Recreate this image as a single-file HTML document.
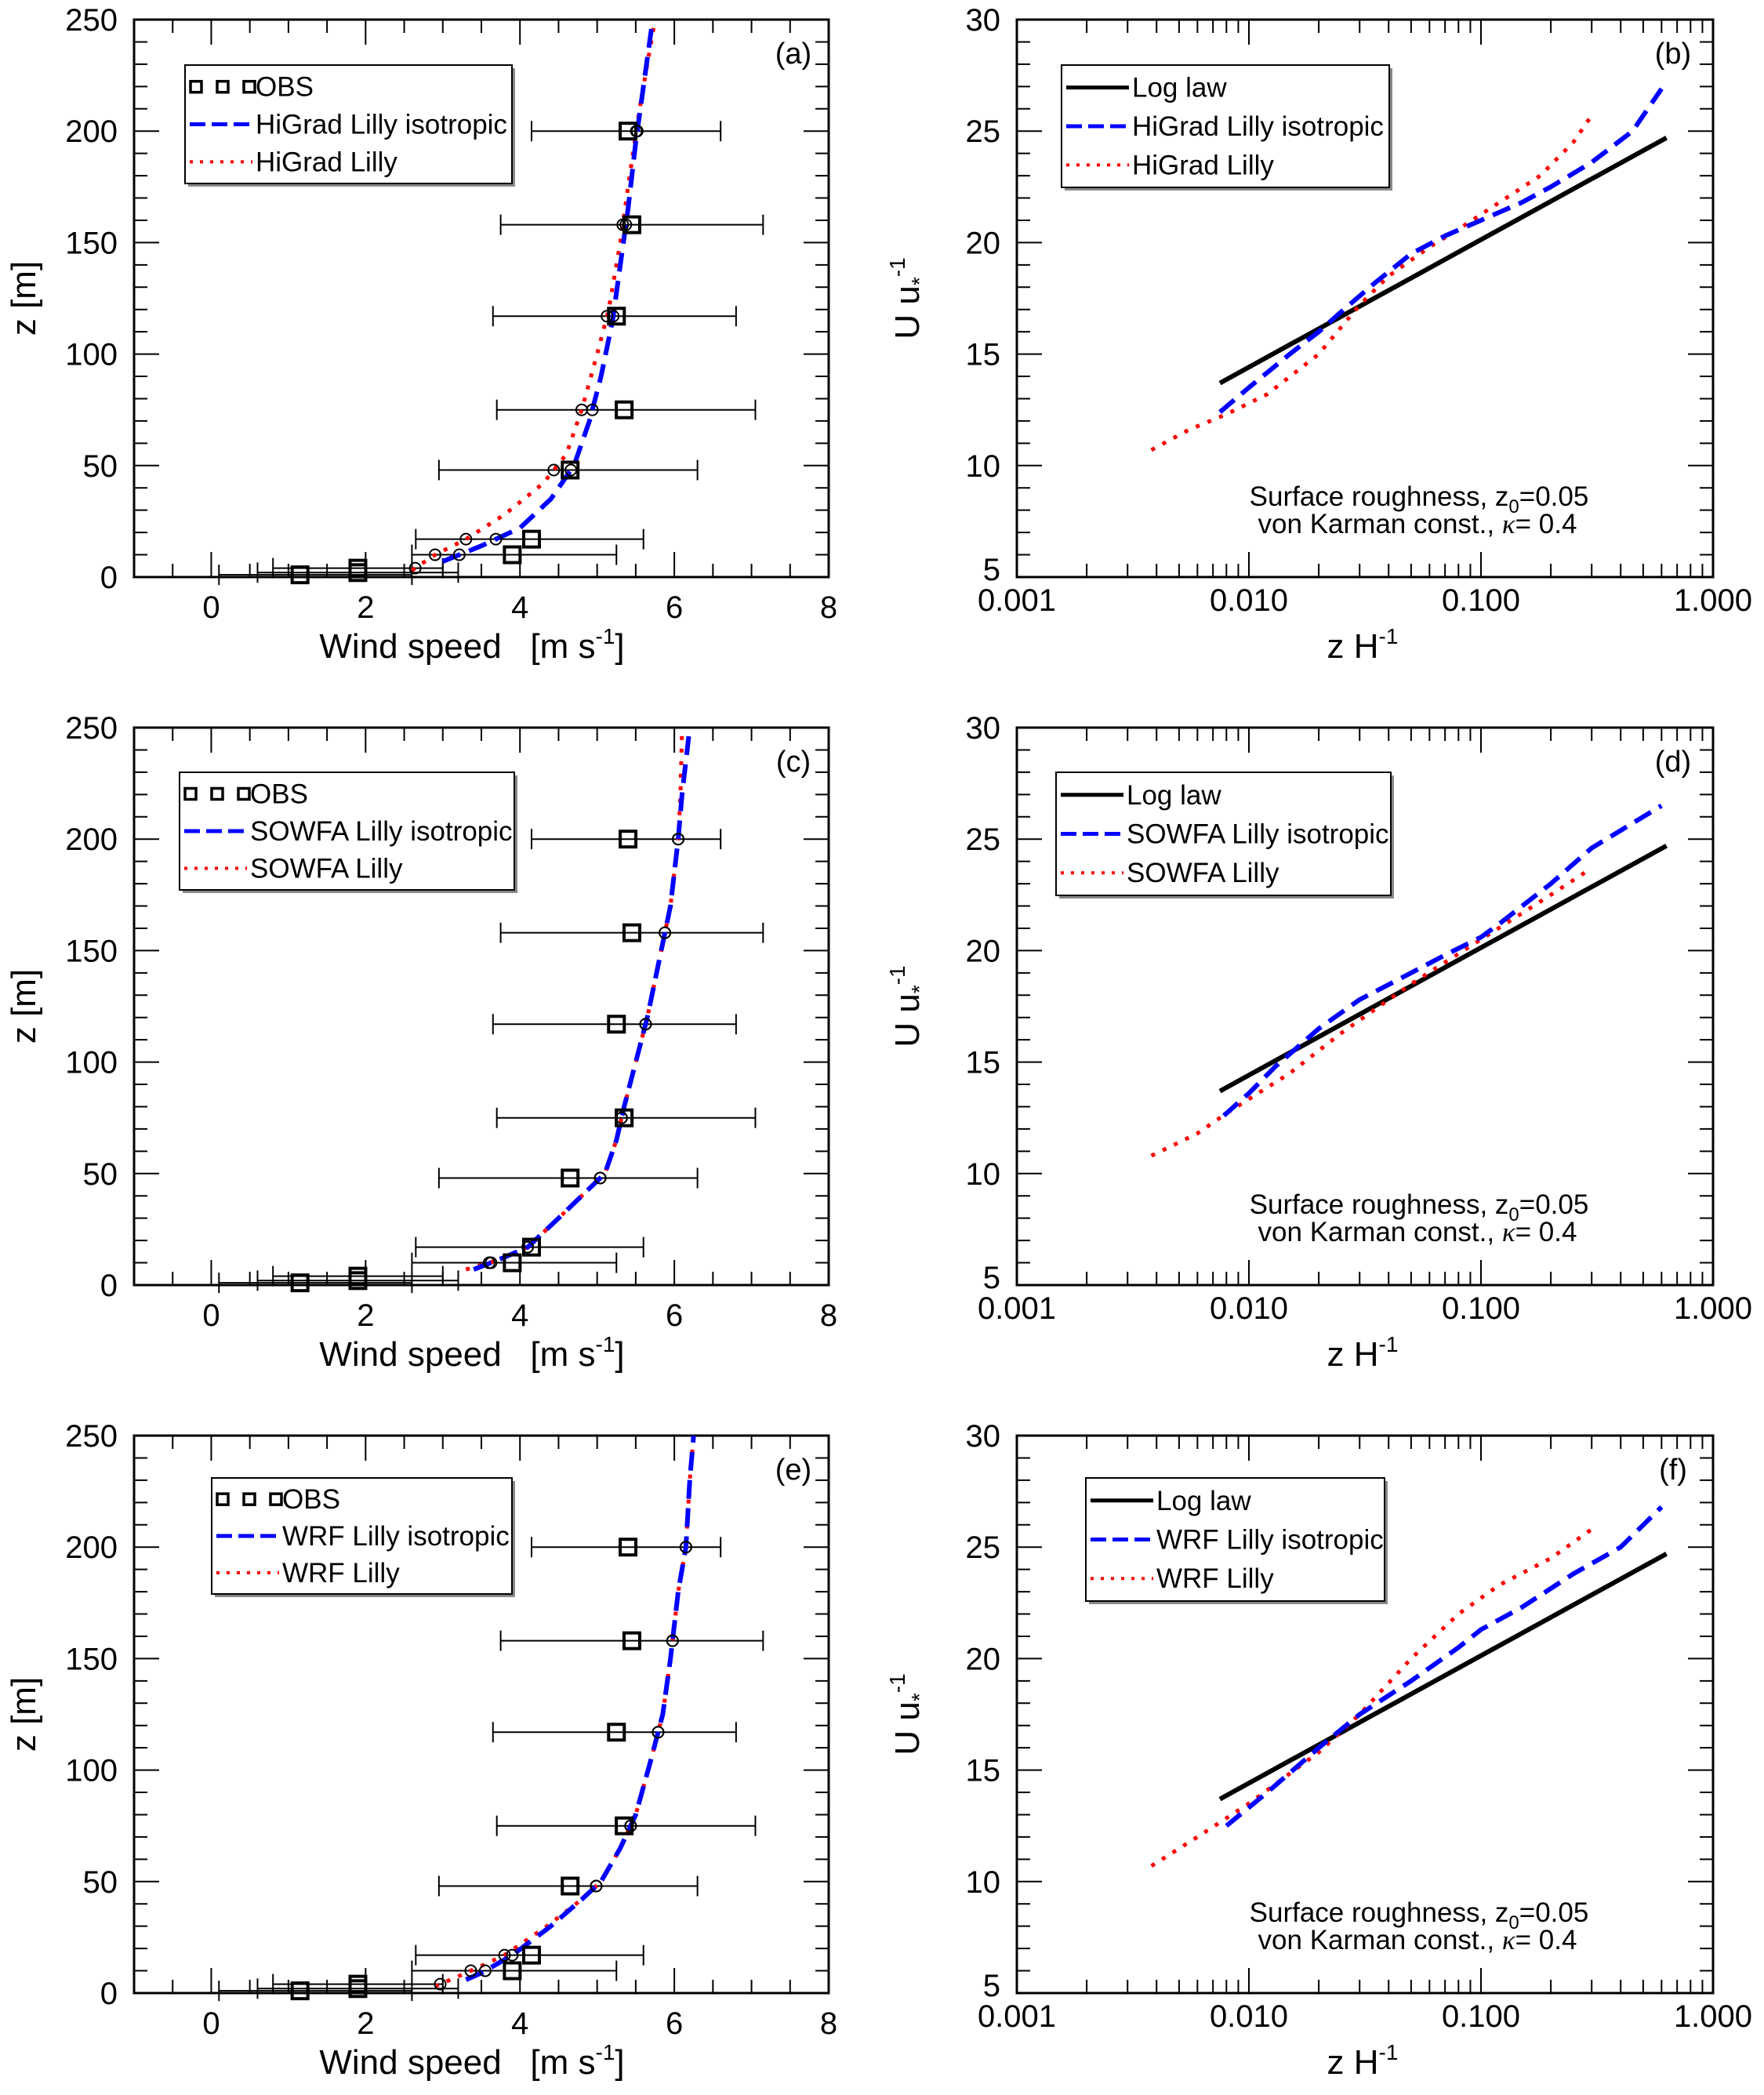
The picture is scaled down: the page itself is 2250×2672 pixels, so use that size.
<!DOCTYPE html>
<html><head><meta charset="utf-8">
<style>
html,body{margin:0;padding:0;background:#fff;}
svg{display:block;font-family:"Liberation Sans",sans-serif;}
</style></head>
<body>
<svg id="fig" width="2250" height="2672" viewBox="0 0 2250 2672" xmlns="http://www.w3.org/2000/svg"></svg>
<script>
// ---- data ----
const obsZ = [200,158,117,75,48,17,10,4,2,1];
const obsU = [5.4,5.45,5.25,5.35,4.65,4.15,3.9,1.9,1.9,1.15];
const obsLo = [4.15,3.75,3.65,3.7,2.95,2.65,2.6,0.8,0.6,0.1];
const obsHi = [6.6,7.15,6.8,7.05,6.3,5.6,5.25,3.0,3.2,2.6];
const markZ = [2,4,10,17,48,75,117,158,200];

const aBlueU = [3.0,3.5,4.0,4.4,4.7,4.9,5.05,5.2,5.3,5.4,5.5,5.6,5.72];
const aBlueZ = [7,14,22,35,50,70,90,115,140,165,195,220,250];
const aRedU = [2.6,2.9,3.3,3.8,4.3,4.6,4.8,5.0,5.15,5.3,5.4,5.55,5.75];
const aRedZ = [3,10,17,28,42,55,75,100,120,150,175,210,250];
const cBlueU = [3.4,3.7,4.1,4.5,4.8,5.1,5.25,5.35,5.5,5.65,5.8,5.95,6.05,6.1,6.2];
const cBlueZ = [7,11,17,30,40,50,65,80,100,120,145,170,200,220,250];
const cRedU = [3.3,3.7,4.1,4.5,4.8,5.1,5.25,5.35,5.5,5.65,5.8,5.95,6.05,6.08,6.1];
const cRedZ = [7,11,17,30,40,50,65,80,100,120,145,170,200,220,250];
const eBlueU = [3.3,3.5,3.9,4.4,4.8,5.05,5.3,5.5,5.7,5.85,5.95,6.05,6.15,6.2,6.25];
const eBlueZ = [6,9,17,30,42,50,65,80,105,125,150,180,200,230,250];
const eRedU = [2.9,3.3,3.8,4.35,4.8,5.05,5.3,5.5,5.7,5.85,5.95,6.05,6.15,6.2,6.25];
const eRedZ = [3,9,17,30,42,50,65,80,105,125,150,180,200,230,250];

const logX = [0.0075,0.63];
const logU = [13.7,24.7];
const bBlueX = [0.0075,0.01,0.015,0.02,0.025,0.035,0.05,0.07,0.1,0.15,0.2,0.3,0.45,0.6];
const bBlueU = [12.4,13.5,15,16,16.9,18.2,19.5,20.3,21,21.8,22.5,23.6,25,26.9];
const bRedX = [0.0038,0.0055,0.008,0.012,0.02,0.03,0.04,0.06,0.08,0.12,0.18,0.25,0.3];
const bRedU = [10.7,11.6,12.3,13.2,15,17.2,18.5,19.8,20.6,21.8,23,24.5,25.7];
const dBlueX = [0.0078,0.01,0.013,0.02,0.03,0.05,0.07,0.1,0.12,0.2,0.3,0.6];
const dBlueU = [12.6,13.6,14.8,16.5,17.8,19,19.8,20.6,21.2,23,24.6,26.5];
const dRedX = [0.0038,0.006,0.008,0.015,0.025,0.05,0.1,0.2,0.3];
const dRedU = [10.8,11.8,12.7,14.5,16.3,18.5,20.5,22.5,23.7];
const fBlueX = [0.008,0.012,0.02,0.03,0.05,0.08,0.1,0.15,0.25,0.4,0.6];
const fBlueU = [12.5,14,16,17.5,19,20.5,21.3,22.3,23.8,25,26.8];
const fRedX = [0.0038,0.006,0.01,0.02,0.03,0.05,0.08,0.12,0.2,0.3];
const fRedU = [10.7,12,13.5,15.8,17.5,20,22,23.3,24.5,25.8];

const linTicks = ['0','2','4','6','8'];
const zTicks = ['0','50','100','150','200','250'];
const logTicks = ['0.001','0.010','0.100','1.000'];
const uTicks = ['5','10','15','20','25','30'];

// ---- helpers ----
const NS='http://www.w3.org/2000/svg';
const svg=document.getElementById('fig');
function mk(tag,attrs,parent){const e=document.createElementNS(NS,tag);for(const k in attrs)e.setAttribute(k,attrs[k]);(parent||svg).appendChild(e);return e;}
function txt(s,x,y,size,anchor,parent){const t=mk('text',{x:x,y:y,'font-size':size,'text-anchor':anchor||'middle',fill:'#000'},parent);t.textContent=s;return t;}
function interp(zs,us,z){for(let i=0;i<zs.length-1;i++){if(z>=zs[i]&&z<=zs[i+1]){const f=(z-zs[i])/(zs[i+1]-zs[i]);return us[i]+f*(us[i+1]-us[i]);}}return null;}

const rows=[25,928,1831]; const H=711;
const LX0=171, LX1=1057, RX0=1297, RX1=2185;

function profilePanel(top,label,names,blueU,blueZ,redU,redZ,leg){
  const g=mk('g',{});
  
  
  const sx=u=>LX0+(u+1)/9*(LX1-LX0);
  const sy=z=>top+H-z/250*H;
  for(let v=-1;v<=8.001;v+=0.5){const x=sx(v);const L=(Math.abs(v%2)<1e-6)?32:17;
    mk('line',{x1:x,y1:top+H,x2:x,y2:top+H-L,stroke:'#000','stroke-width':2},g);
    mk('line',{x1:x,y1:top,x2:x,y2:top+L,stroke:'#000','stroke-width':2},g);}
  for(let v=0;v<=250;v+=10){const y=sy(v);const L=(v%50===0)?32:17;
    mk('line',{x1:LX0,y1:y,x2:LX0+L,y2:y,stroke:'#000','stroke-width':2},g);
    mk('line',{x1:LX1,y1:y,x2:LX1-L,y2:y,stroke:'#000','stroke-width':2},g);}
  mk('rect',{x:LX0,y:top,width:LX1-LX0,height:H,fill:'none',stroke:'#000','stroke-width':3},g);
  linTicks.forEach(s=>{const t=txt(s,sx(+s),top+H+52,40,'middle',g);});
  zTicks.forEach(s=>{const t=txt(s,150,sy(+s)+14,40,'end',g);});
  const xt=mk('text',{x:602,y:top+H+103,'font-size':44,'text-anchor':'middle'},g);
  
  xt.innerHTML='Wind speed&#160;&#160; [m s<tspan dy="-18" font-size="28">-1</tspan><tspan dy="18">]</tspan>';
  const yt=mk('text',{x:0,y:0,'font-size':44,'text-anchor':'middle',transform:`translate(45,${top+H/2}) rotate(-90)`},g);
  
  yt.textContent='z [m]';
  const pl=txt('('+label+')',1012,top+56,38,'middle',g);
  
  obsZ.forEach((z,i)=>{const y=sy(z);
    const eb=mk('g',{},g);
    mk('line',{x1:sx(obsLo[i]),y1:y,x2:sx(obsHi[i]),y2:y,stroke:'#000','stroke-width':2},eb);
    mk('line',{x1:sx(obsLo[i]),y1:y-13,x2:sx(obsLo[i]),y2:y+13,stroke:'#000','stroke-width':2},eb);
    mk('line',{x1:sx(obsHi[i]),y1:y-13,x2:sx(obsHi[i]),y2:y+13,stroke:'#000','stroke-width':2},eb);});
  const pts=(us,zs)=>us.map((u,i)=>sx(u)+','+sy(zs[i])).join(' ');
  const rl=mk('polyline',{points:pts(redU,redZ),fill:'none',stroke:'#f00','stroke-width':5,'stroke-dasharray':'5 11'},g);
  
  const bl=mk('polyline',{points:pts(blueU,blueZ),fill:'none',stroke:'#00f','stroke-width':6,'stroke-dasharray':'24 12'},g);
  
  markZ.forEach(z=>{[[blueZ,blueU],[redZ,redU]].forEach(([zs,us])=>{const u=interp(zs,us,z);if(u!==null){
    const c=mk('circle',{cx:sx(u),cy:sy(z),r:7,fill:'none',stroke:'#000','stroke-width':2},g);
    }});});
  obsZ.forEach((z,i)=>{const s=mk('rect',{x:sx(obsU[i])-10,y:sy(z)-10,width:20,height:20,fill:'none',stroke:'#000','stroke-width':4},g);
    });
  const lg=mk('g',{},g);
  const [lx0,ly0,lx1,ly1]=leg;
  mk('rect',{x:lx0+4,y:ly0+4,width:lx1-lx0,height:ly1-ly0,fill:'#888'},lg);
  mk('rect',{x:lx0,y:ly0,width:lx1-lx0,height:ly1-ly0,fill:'#fff',stroke:'#000','stroke-width':2},lg);
  const rh=(ly1-ly0)/3; const sw0=lx0+6, sw1=sw0+80, tx=sw1+4;
  const r1=ly0+rh*0.55, r2=ly0+rh*1.5, r3=ly0+rh*2.45;
  [sw0+8,sw0+42,sw0+76].forEach(x=>mk('rect',{x:x-7,y:r1-7,width:14,height:14,fill:'none',stroke:'#000','stroke-width':3.5},lg));
  mk('line',{x1:sw0,y1:r2,x2:sw1,y2:r2,stroke:'#00f','stroke-width':5,'stroke-dasharray':'20 8'},lg);
  mk('line',{x1:sw0,y1:r3,x2:sw1,y2:r3,stroke:'#f00','stroke-width':4,'stroke-dasharray':'4 9'},lg);
  const e1=txt(names[0],tx,r1+12,35,'start',lg);
  const e2=txt(names[1],tx,r2+12,35,'start',lg);
  const e3=txt(names[2],tx,r3+12,35,'start',lg);
}

function logPanel(top,label,names,blueX,blueU,redX,redU,leg){
  const g=mk('g',{});
  
  
  const sx=v=>RX0+(Math.log10(v)+3)/3*(RX1-RX0);
  const sy=u=>top+H-(u-5)/25*H;
  for(let d=-3;d<0;d++){for(let m=1;m<=9;m++){const x=sx(m*Math.pow(10,d));const L=m===1?32:17;
    mk('line',{x1:x,y1:top+H,x2:x,y2:top+H-L,stroke:'#000','stroke-width':2},g);
    mk('line',{x1:x,y1:top,x2:x,y2:top+L,stroke:'#000','stroke-width':2},g);}}
  for(let v=5;v<=30;v+=1){const y=sy(v);const L=(v%5===0)?32:17;
    mk('line',{x1:RX0,y1:y,x2:RX0+L,y2:y,stroke:'#000','stroke-width':2},g);
    mk('line',{x1:RX1,y1:y,x2:RX1-L,y2:y,stroke:'#000','stroke-width':2},g);}
  mk('rect',{x:RX0,y:top,width:RX1-RX0,height:H,fill:'none',stroke:'#000','stroke-width':3},g);
  logTicks.forEach(s=>{const t=txt(s,sx(+s),top+H+43,40,'middle',g);});
  uTicks.forEach(s=>{const t=txt(s,1276,sy(+s)+(s==='5'?4:14),40,'end',g);});
  const xt=mk('text',{x:1738,y:top+H+103,'font-size':44,'text-anchor':'middle'},g);
  
  xt.innerHTML='z H<tspan dy="-18" font-size="28">-1</tspan>';
  const yt=mk('text',{x:0,y:0,'font-size':44,'text-anchor':'middle',transform:`translate(1172,${top+H/2}) rotate(-90)`},g);
  
  yt.innerHTML='U u<tspan dy="10" font-size="28">*</tspan><tspan dy="-28" font-size="28">-1</tspan>';
  const pl=txt('('+label+')',2134,top+56,38,'middle',g);
  
  const an=mk('text',{x:1810,y:top+620,'font-size':35,'text-anchor':'middle'},g);
  
  an.innerHTML='Surface roughness, z<tspan dy="9" font-size="24">0</tspan><tspan dy="-9">=0.05</tspan>';
  const an2=mk('text',{x:1808,y:top+655,'font-size':35,'text-anchor':'middle'},g);
  
  an2.innerHTML='von Karman const., <tspan font-style="italic" font-family="Liberation Serif">κ</tspan>= 0.4';
  const pts=(xs,us)=>xs.map((x,i)=>sx(x)+','+sy(us[i])).join(' ');
  const ll=mk('polyline',{points:pts(logX,logU),fill:'none',stroke:'#000','stroke-width':6},g);
  
  const rl=mk('polyline',{points:pts(redX,redU),fill:'none',stroke:'#f00','stroke-width':5,'stroke-dasharray':'5 11'},g);
  
  const bl=mk('polyline',{points:pts(blueX,blueU),fill:'none',stroke:'#00f','stroke-width':6,'stroke-dasharray':'24 12'},g);
  
  const lg=mk('g',{},g);
  const [lx0,ly0,lx1,ly1]=leg;
  mk('rect',{x:lx0+4,y:ly0+4,width:lx1-lx0,height:ly1-ly0,fill:'#888'},lg);
  mk('rect',{x:lx0,y:ly0,width:lx1-lx0,height:ly1-ly0,fill:'#fff',stroke:'#000','stroke-width':2},lg);
  const rh=(ly1-ly0)/3; const sw0=lx0+6, sw1=sw0+80, tx=sw1+4;
  const r1=ly0+rh*0.55, r2=ly0+rh*1.5, r3=ly0+rh*2.45;
  mk('line',{x1:sw0,y1:r1,x2:sw1,y2:r1,stroke:'#000','stroke-width':5},lg);
  mk('line',{x1:sw0,y1:r2,x2:sw1,y2:r2,stroke:'#00f','stroke-width':5,'stroke-dasharray':'20 8'},lg);
  mk('line',{x1:sw0,y1:r3,x2:sw1,y2:r3,stroke:'#f00','stroke-width':4,'stroke-dasharray':'4 9'},lg);
  const e1=txt(names[0],tx,r1+12,35,'start',lg);
  const e2=txt(names[1],tx,r2+12,35,'start',lg);
  const e3=txt(names[2],tx,r3+12,35,'start',lg);
}

profilePanel(rows[0],'a',['OBS','HiGrad Lilly isotropic','HiGrad Lilly'],aBlueU,aBlueZ,aRedU,aRedZ,[236,83,653,234]);
profilePanel(rows[1],'c',['OBS','SOWFA Lilly isotropic','SOWFA Lilly'],cBlueU,cBlueZ,cRedU,cRedZ,[229,985,656,1135]);
profilePanel(rows[2],'e',['OBS','WRF Lilly isotropic','WRF Lilly'],eBlueU,eBlueZ,eRedU,eRedZ,[270,1885,653,2033]);
logPanel(rows[0],'b',['Log law','HiGrad Lilly isotropic','HiGrad Lilly'],bBlueX,bBlueU,bRedX,bRedU,[1354,83,1772,239]);
logPanel(rows[1],'d',['Log law','SOWFA Lilly isotropic','SOWFA Lilly'],dBlueX,dBlueU,dRedX,dRedU,[1347,985,1774,1142]);
logPanel(rows[2],'f',['Log law','WRF Lilly isotropic','WRF Lilly'],fBlueX,fBlueU,fRedX,fRedU,[1385,1885,1766,2042]);
</script>
</body></html>
